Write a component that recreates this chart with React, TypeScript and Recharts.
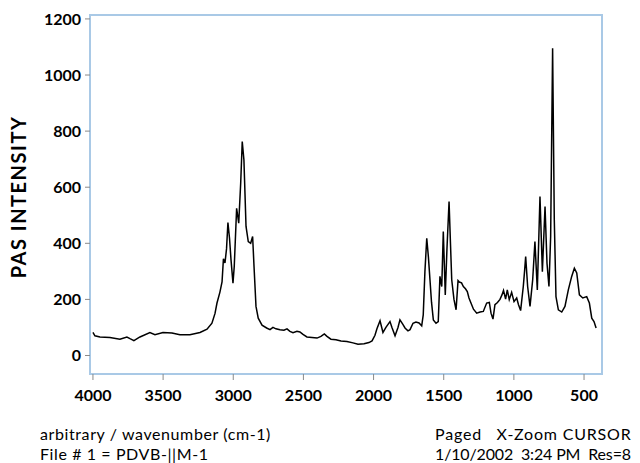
import React from "react";
import { LineChart, Line, XAxis, YAxis, ReferenceArea, Label } from "recharts";

const wavenumbers = [
  4000, 3986, 3950, 3879, 3808, 3758, 3736, 3708, 3665, 3594, 3558, 3501, 3437, 3380, 3309, 3237,
  3187, 3152, 3130, 3116, 3095, 3080, 3070, 3059, 3048, 3038, 3027, 3016, 3002, 2993, 2976, 2961,
  2947, 2936, 2924, 2909, 2893, 2876, 2862, 2852, 2838, 2822, 2795, 2762, 2738, 2717, 2696, 2667,
  2639, 2617, 2596, 2574, 2546, 2525, 2503, 2475, 2439, 2403, 2375, 2351, 2332, 2304, 2268, 2232,
  2190, 2147, 2111, 2068, 2033, 2011, 1990, 1976, 1954, 1933, 1912, 1883, 1869, 1847, 1826, 1812,
  1790, 1776, 1755, 1740, 1719, 1698, 1676, 1657, 1646, 1634, 1621, 1609, 1598, 1587, 1574, 1555,
  1539, 1527, 1514, 1503, 1489, 1477, 1462, 1452, 1443, 1427, 1412, 1398, 1389, 1373, 1360, 1345,
  1332, 1320, 1308, 1288, 1265, 1241, 1218, 1194, 1175, 1163, 1149, 1135, 1117, 1099, 1085, 1074,
  1059, 1047, 1033, 1016, 999, 980, 967, 952, 933, 924, 916, 902, 885, 866, 850, 833,
  814, 797, 778, 764, 750, 738, 724, 712, 700, 683, 659, 636, 612, 588, 569, 552,
  533, 509, 481, 462, 445, 429, 414,
];

const intensities = [
  82, 70, 66, 64, 58, 66, 60, 53, 66, 82, 74, 82, 80, 74, 74, 82,
  94, 115, 150, 187, 226, 262, 345, 330, 380, 474, 420, 341, 258, 317, 525, 472,
  615, 763, 697, 460, 406, 400, 424, 317, 175, 133, 108, 98, 92, 100, 95, 92,
  90, 95, 86, 81, 86, 84, 75, 66, 64, 62, 68, 77, 68, 58, 56, 52,
  50, 45, 40, 42, 46, 52, 72, 95, 124, 82, 100, 121, 100, 70, 100, 127,
  110, 98, 88, 92, 115, 119, 116, 106, 145, 300, 418, 350, 270, 190, 127, 115,
  121, 282, 246, 442, 216, 380, 549, 400, 270, 200, 163, 267, 262, 259, 246, 238,
  228, 205, 190, 165, 151, 155, 157, 187, 189, 151, 130, 181, 189, 200, 216, 232,
  201, 234, 199, 225, 192, 205, 181, 160, 246, 300, 353, 246, 175, 270, 406, 234,
  567, 299, 531, 329, 246, 424, 1095, 484, 210, 163, 155, 175, 234, 282, 311, 294,
  216, 205, 210, 187, 133, 121, 98,
];

const xTicks = [4000, 3500, 3000, 2500, 2000, 1500, 1000, 500];
const yTicks = [0, 200, 400, 600, 800, 1000, 1200];
const xDomain = [372, 4021];
const yDomain = [-66, 1214];

const yTitle = "PAS INTENSITY";
const footerLeft = ["arbitrary / wavenumber (cm-1)", "File # 1 = PDVB-||M-1"];
const footerRight = ["Paged   X-Zoom CURSOR", "1/10/2002  3:24 PM  Res=8"];

const data = wavenumbers.map((w, i) => ({ w, v: intensities[i] }));

const FONT = "Lato, 'Open Sans', sans-serif";
const BLUE = "#a9c9e6";
const TICK = "#8a8a8a";

const YTitle = () => (
  <text
    x={18}
    y={197}
    transform="rotate(-90 18 197)"
    textAnchor="middle"
    dominantBaseline="central"
    style={{ fill: "#000", fontSize: 20, fontWeight: 700, fontFamily: FONT, letterSpacing: 1.5 }}
  >
    {yTitle}
  </text>
);

export default function App() {
  return (
    <div style={{ position: "absolute", left: 0, top: 0, width: 640, height: 463, background: "#fff", fontFamily: FONT }}>
      <LineChart width={640} height={463} data={data} margin={{ top: 15, right: 38, bottom: 59, left: 0 }}>
        <ReferenceArea x1={xDomain[0]} x2={xDomain[1]} y1={yDomain[0]} y2={yDomain[1]} fill="none" stroke={BLUE} strokeWidth={2} />
        <XAxis
          dataKey="w"
          type="number"
          domain={xDomain}
          reversed
          ticks={xTicks}
          height={30}
          tickSize={6}
          tickMargin={10}
          axisLine={{ stroke: BLUE, strokeWidth: 2 }}
          tickLine={{ stroke: TICK }}
          tick={{ fill: "#000", fontSize: 16, fontWeight: 700, fontFamily: FONT }}
          allowDataOverflow
        />
        <YAxis
          type="number"
          domain={yDomain}
          ticks={yTicks}
          width={90}
          tickSize={5}
          tickMargin={4}
          axisLine={{ stroke: BLUE, strokeWidth: 2 }}
          tickLine={{ stroke: TICK }}
          tick={{ fill: "#000", fontSize: 16, fontWeight: 700, fontFamily: FONT }}
          allowDataOverflow
        >
          <Label content={<YTitle />} />
        </YAxis>
        <Line
          dataKey="v"
          stroke="#000"
          strokeWidth={1.5}
          dot={false}
          isAnimationActive={false}
          type="linear"
        />
      </LineChart>
      <div style={{ position: "absolute", left: 40, top: 424, fontSize: 16, lineHeight: "20px", color: "#000", letterSpacing: 0.6, whiteSpace: "pre" }}>
        <div>{footerLeft[0]}</div>
        <div>{footerLeft[1]}</div>
      </div>
      <div style={{ position: "absolute", left: 435, top: 424, fontSize: 16, lineHeight: "20px", color: "#000", whiteSpace: "pre" }}>
        <div style={{ letterSpacing: 0.8 }}>{footerRight[0]}</div>
        <div style={{ letterSpacing: -0.15 }}>{footerRight[1]}</div>
      </div>
    </div>
  );
}
